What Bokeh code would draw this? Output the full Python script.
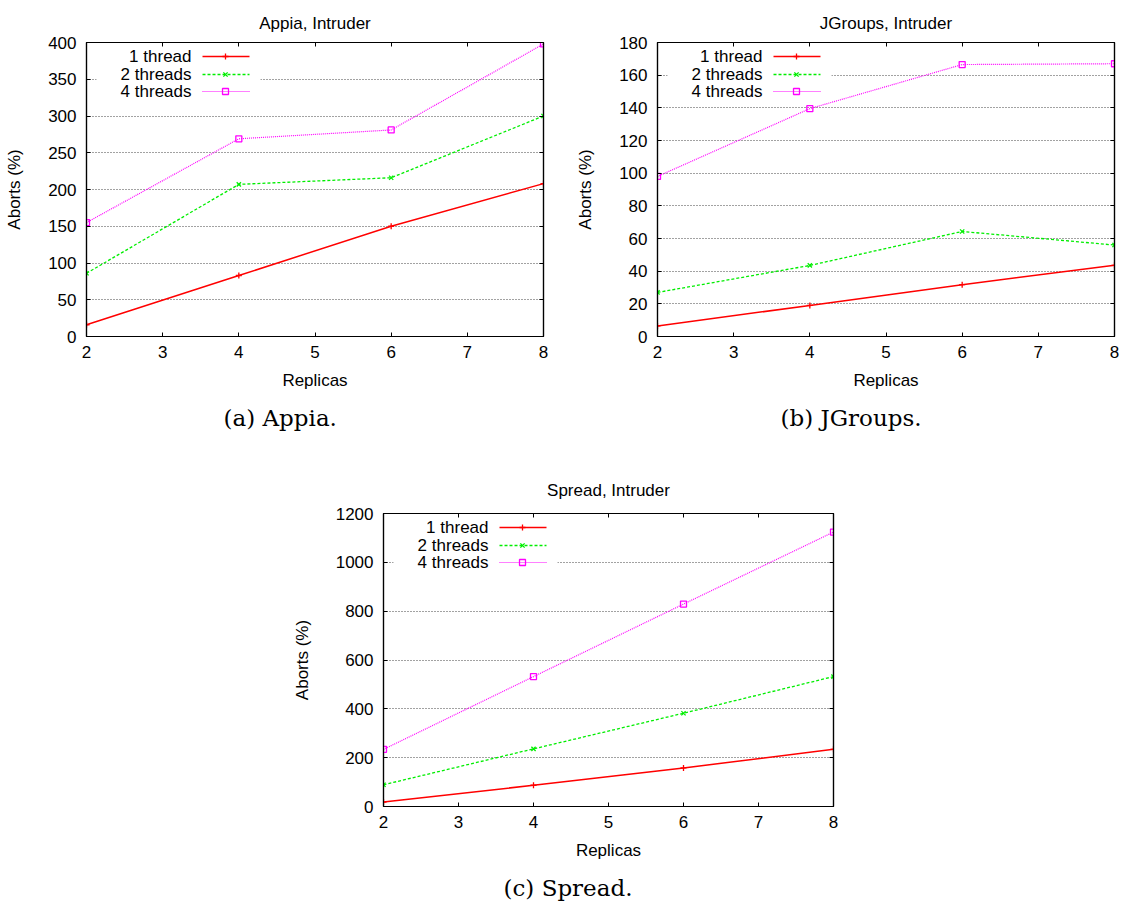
from bokeh.plotting import figure
from bokeh.models import LinearAxis, Title, FixedTicker, CustomJSTickFormatter, Range1d, BoxAnnotation
from bokeh.layouts import column, row
from bokeh.embed import file_html
from bokeh.resources import INLINE
from bokeh.core.properties import value

# ---------------- data ----------------
replicas = [2, 4, 6, 8]
series_names = ["1 thread", "2 threads", "4 threads"]

appia_1 = [16, 83, 150, 208]
appia_2 = [86, 207, 216, 300]
appia_4 = [155, 269, 281, 398]

jgroups_1 = [6.5, 19, 31.7, 43.6]
jgroups_2 = [27, 43.5, 64.3, 56]
jgroups_4 = [98, 139.5, 166.5, 167]

spread_1 = [18, 87, 158, 234]
spread_2 = [89, 236, 382, 532]
spread_4 = [234, 532, 829, 1124]

x_ticks = [2, 3, 4, 5, 6, 7, 8]
appia_yticks = [0, 50, 100, 150, 200, 250, 300, 350, 400]
jgroups_yticks = [0, 20, 40, 60, 80, 100, 120, 140, 160, 180]
spread_yticks = [0, 200, 400, 600, 800, 1000, 1200]

# ---------------- styles ----------------
SANS = "Liberation Sans"
SERIF = "DejaVu Serif"
FS = "17px"
styles = [
    dict(color="#ff0000", dash="solid", width=1.5, marker="cross", size=6),
    dict(color="#00ee00", dash="3 2", width=1.3, marker="x", size=6),
    dict(color="#ff00ff", dash="1 1", width=1.2, marker="square", size=6),
]


def blank_axis(ticks):
    ax = LinearAxis(ticker=FixedTicker(ticks=ticks),
                    formatter=CustomJSTickFormatter(code="return ''"))
    ax.major_tick_in = 4
    ax.major_tick_out = 0
    ax.minor_tick_line_color = None
    ax.axis_line_color = "black"
    ax.axis_line_width = 1.2
    ax.major_tick_line_color = "black"
    ax.major_label_standoff = 0
    return ax


def make_panel(title, caption, series, yticks, fw, fh, borders, cap_offset, title_standoff):
    ymin, ymax = yticks[0], yticks[-1]
    xmin, xmax = x_ticks[0], x_ticks[-1]
    bl, br, bt, bb = borders
    p = figure(frame_width=fw, frame_height=fh,
               x_range=Range1d(xmin, xmax), y_range=Range1d(ymin, ymax),
               output_backend="svg", toolbar_location=None,
               min_border_left=bl, min_border_right=br,
               min_border_top=bt, min_border_bottom=bb)
    p.background_fill_color = "white"
    p.border_fill_color = "white"
    p.outline_line_color = "black"
    p.outline_line_width = 1.2

    p.title.text = title
    p.title.align = "center"
    p.title.text_font = SANS
    p.title.text_font_size = FS
    p.title.text_font_style = "normal"
    p.title.text_color = "black"
    p.title.standoff = title_standoff

    for ax, ticks in ((p.xaxis[0], x_ticks), (p.yaxis[0], yticks)):
        ax.ticker = FixedTicker(ticks=ticks)
        ax.major_tick_in = 4
        ax.major_tick_out = 0
        ax.minor_tick_line_color = None
        ax.axis_line_color = "black"
        ax.axis_line_width = 1.2
        ax.major_tick_line_color = "black"
        ax.major_label_text_font = SANS
        ax.major_label_text_font_size = FS
        ax.major_label_text_color = "black"
        ax.axis_label_text_font = SANS
        ax.axis_label_text_font_size = FS
        ax.axis_label_text_font_style = "normal"
        ax.axis_label_text_color = "black"
    p.xaxis.axis_label = "Replicas"
    p.yaxis.axis_label = "Aborts (%)"
    p.xaxis.major_label_standoff = 9
    p.yaxis.major_label_standoff = 10
    p.xaxis.axis_label_standoff = 10
    p.yaxis.axis_label_standoff = 21

    p.add_layout(blank_axis(x_ticks), "above")
    p.add_layout(blank_axis(yticks), "right")

    p.xgrid.visible = False
    p.ygrid.ticker = FixedTicker(ticks=yticks)
    p.ygrid.grid_line_color = "#444444"
    p.ygrid.grid_line_dash = "1 2"
    p.ygrid.grid_line_width = 1

    # data lines
    for vals, st in zip(series, styles):
        p.line(replicas, vals, line_color=st["color"], line_width=st["width"],
               line_dash=st["dash"])
        p.scatter(replicas, vals, marker=st["marker"], size=st["size"],
                  line_color=st["color"], fill_color=None, line_width=1.3)

    # legend (gnuplot style: label right-aligned, sample to its right)
    def dx(px):
        return xmin + px / fw * (xmax - xmin)

    def dy(py):
        return ymax - py / fh * (ymax - ymin)

    p.add_layout(BoxAnnotation(left=dx(10), right=dx(174), top=dy(5), bottom=dy(58),
                               fill_color="white", fill_alpha=1.0, line_color=None,
                               level="underlay"))
    rows_px = [14, 32, 49]
    p.text(x=[dx(105)] * 3, y=[dy(r) for r in rows_px], text=series_names,
           text_align="right", text_baseline="middle",
           text_font=value(SANS), text_font_size=FS, text_color="black")
    for r, st in zip(rows_px, styles):
        p.segment(x0=[dx(116)], y0=[dy(r)], x1=[dx(163)], y1=[dy(r)],
                  line_color=st["color"], line_width=st["width"], line_dash=st["dash"])
        p.scatter([dx(139)], [dy(r)], marker=st["marker"], size=st["size"],
                  line_color=st["color"], fill_color=None, line_width=1.3)

    cap = Title(text=caption, align="left", offset=cap_offset,
                text_font=SERIF, text_font_size="23px", text_font_style="normal",
                text_color="black", standoff=20)
    p.add_layout(cap, "below")
    return p


pa = make_panel("Appia, Intruder", "(a) Appia.", [appia_1, appia_2, appia_4],
                appia_yticks, 457, 294, (86, 30, 42, 105), 137, 20)
pb = make_panel("JGroups, Intruder", "(b) JGroups.", [jgroups_1, jgroups_2, jgroups_4],
                jgroups_yticks, 457, 294, (83, 8, 42, 105), 123, 20)
pc = make_panel("Spread, Intruder", "(c) Spread.", [spread_1, spread_2, spread_4],
                spread_yticks, 450, 293, (383, 280, 72, 95), 120, 28)

layout = column(row(pa, pb), pc)
open("out.html", "w").write(file_html(layout, INLINE))
